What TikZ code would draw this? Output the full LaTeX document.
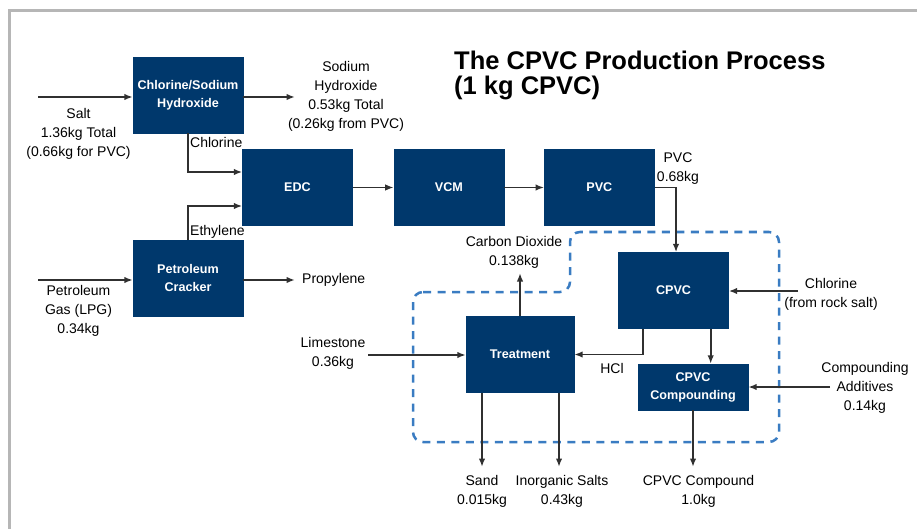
\documentclass[tikz,border=0pt]{standalone}
\usepackage{fontspec}
\setmainfont{Liberation Sans}
\usepackage{tikz}
\usetikzlibrary{arrows.meta,positioning}

\definecolor{boxblue}{RGB}{0,56,108}
\definecolor{linegray}{RGB}{48,48,48}
\definecolor{dashblue}{RGB}{58,124,194}
\definecolor{framegray}{RGB}{182,182,182}

\begin{document}
\begin{tikzpicture}[x=1pt, y=1pt,
    box/.style={rectangle, fill=boxblue, draw=boxblue, text=white, align=center, inner sep=0pt,
        minimum width=110pt, minimum height=76pt, font=\bfseries\fontsize{12.6}{18}\selectfont},
    lbl/.style={align=center, inner sep=0pt, text=black, font=\fontsize{14}{19}\selectfont},
    flow/.style={draw=linegray, line width=1.9pt, -{Latex[length=8.5pt,width=6.5pt]}},
    region/.style={draw=dashblue, line width=2.5pt, dash pattern=on 8pt off 6.5pt, rounded corners=10pt}]
    \useasboundingbox (0,0) rectangle (917,-529);
    \draw[framegray, line width=3pt] (9,-529) -- (9,-11) -- (917,-11);

    \draw[region] (413,-292) -- (570,-292) -- (570,-232) -- (779,-232) -- (779,-442) -- (413,-442) -- cycle;

    \node[box] (chlor) at (188,-95) {Chlorine/Sodium\\Hydroxide};
    \node[box] (edc) at (297.5,-187.5) {EDC};
    \node[box, right=41pt of edc] (vcm) {VCM};
    \node[box, right=40pt of vcm] (pvc) {PVC};
    \node[box, below=107pt of chlor] (cracker) {Petroleum\\Cracker};
    \node[box] (cpvc) at (673.5,-290.5) {CPVC};
    \node[box, minimum width=108pt] (treat) at (520,-354.5) {Treatment};
    \node[box, minimum height=46pt] (compound) at (693,-387) {CPVC\\Compounding};

    \node[font=\bfseries\fontsize{25.5}{25}\selectfont, align=left, anchor=north west, inner sep=0pt] (title) at (454,-51) {The CPVC Production Process\\(1 kg CPVC)};

    \node[lbl, anchor=north] (salt) at (78.5,-108) {Salt\\1.36kg Total\\(0.66kg for PVC)};
    \node[lbl, anchor=north] (naoh) at (346,-61) {Sodium\\Hydroxide\\0.53kg Total\\(0.26kg from PVC)};
    \node[lbl, anchor=north west] (chlorine) at (190,-137) {Chlorine};
    \node[lbl, anchor=north west] (ethylene) at (190,-225) {Ethylene};
    \node[lbl, anchor=north] (lpg) at (78.5,-285) {Petroleum\\Gas (LPG)\\0.34kg};
    \node[lbl, anchor=west] (propylene) at (302,-280) {Propylene};
    \node[lbl, anchor=north] (limestone) at (333,-337) {Limestone\\0.36kg};
    \node[lbl, anchor=north] (co2) at (514,-236) {Carbon Dioxide\\0.138kg};
    \node[lbl, anchor=north] (pvcout) at (678,-153) {PVC\\0.68kg};
    \node[lbl, anchor=north] (rocksalt) at (831,-278) {Chlorine\\(from rock salt)};
    \node[lbl, anchor=north] (hcl) at (612,-363) {HCl};
    \node[lbl, anchor=north] (additives) at (865,-362) {Compounding\\Additives\\0.14kg};
    \node[lbl, anchor=north] (sand) at (482,-475) {Sand\\0.015kg};
    \node[lbl, anchor=north] (salts) at (562,-475) {Inorganic Salts\\0.43kg};
    \node[lbl, anchor=north] (product) at (698.5,-475) {CPVC Compound\\1.0kg};

    \coordinate (saltin) at (38,-97);
    \coordinate (naohend) at (295,-97);
    \coordinate (lpgin) at (38,-280);
    \coordinate (propend) at (295,-280);
    \coordinate (limein) at (368,-355);
    \coordinate (co2end) at (520,-273);
    \coordinate (rockin) at (798,-291);
    \coordinate (addin) at (830,-387);
    \coordinate (sandend) at (482,-467);
    \coordinate (saltsend) at (559,-467);
    \coordinate (productend) at (693,-467);

    \draw[flow] (saltin) -- (saltin -| chlor.west);
    \draw[flow] (chlor.east |- naohend) -- (naohend);
    \draw[flow] (chlor.south) |- ([yshift=15.5pt]edc.west);
    \draw[flow] (cracker.north) |- ([yshift=-18.5pt]edc.west);
    \draw[flow] (lpgin) -- (lpgin -| cracker.west);
    \draw[flow] (cracker.east |- propend) -- (propend);
    \draw[flow] (edc) -- (vcm);
    \draw[flow] (vcm) -- (pvc);
    \draw[flow] (pvc.east) -| ([xshift=2.5pt]cpvc.north);
    \draw[flow] (rockin) -- (rockin -| cpvc.east);
    \draw[flow] ([xshift=-18pt]cpvc.south east) -- ([xshift=-18pt]cpvc.south east |- compound.north);
    \draw[flow] ([xshift=25pt]cpvc.south west) |- (treat.east);
    \draw[flow] (limein) -- (limein -| treat.west);
    \draw[flow] (treat.north) -- (co2end);
    \draw[flow] (addin) -- (addin -| compound.east);
    \draw[flow] (sandend |- treat.south) -- (sandend);
    \draw[flow] (saltsend |- treat.south) -- (saltsend);
    \draw[flow] (compound.south) -- (productend);
\end{tikzpicture}
\end{document}
